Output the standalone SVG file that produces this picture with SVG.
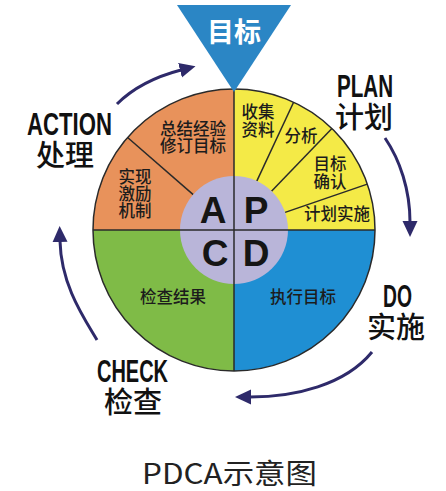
<svg xmlns="http://www.w3.org/2000/svg" width="446" height="491" viewBox="0 0 446 491">
<defs>
<style>
.seg{font-family:"Noto Sans CJK SC","Noto Sans",sans-serif;font-size:16.5px;font-weight:500;fill:#1c1c1c;text-anchor:middle}
.big{font-family:"Liberation Sans",Arial,sans-serif;font-size:37px;font-weight:bold;fill:#151515;text-anchor:middle}
.en{font-family:"Liberation Sans",Arial,sans-serif;font-size:31px;font-weight:bold;fill:#111;text-anchor:middle}
.cn{font-family:"Noto Sans CJK SC",sans-serif;font-size:29px;font-weight:500;fill:#111;text-anchor:middle}
.div{stroke:#2a2a2a;stroke-width:1.5;fill:none}
.arc{stroke:#2E2A6A;stroke-width:3;fill:none;marker-end:url(#ah)}
</style>
<marker id="ah" markerUnits="userSpaceOnUse" markerWidth="18" markerHeight="16" refX="1" refY="7.5" orient="auto">
<path d="M0,0 L16,7.5 L0,15 Z" fill="#2E2A6A"/>
</marker>
</defs>
<rect width="446" height="491" fill="#fff"/>

<g id="wheel">
<path d="M234,230 L93,230 A141,141 0 0 1 234,89 Z" fill="#E8925B"/>
<path d="M234,230 L234,89 A141,141 0 0 1 375,230 Z" fill="#F4EA47"/>
<path d="M234,230 L375,230 A141,141 0 0 1 234,371 Z" fill="#1F8FD3"/>
<path d="M234,230 L234,371 A141,141 0 0 1 93,230 Z" fill="#7FBB47"/>
<line class="div" x1="256.8" y1="181.1" x2="293.6" y2="102.2"/>
<line class="div" x1="271.5" y1="191.2" x2="331.9" y2="128.6"/>
<line class="div" x1="285.1" y1="212.4" x2="367.3" y2="184.1"/>
<line class="div" x1="193.2" y1="194.6" x2="127.6" y2="137.5"/>
<circle cx="234" cy="230" r="54" fill="#B9B5D9"/>
<line class="div" x1="93" y1="230" x2="375" y2="230"/>
<line class="div" x1="234" y1="89" x2="234" y2="371"/>
<circle cx="234" cy="230" r="141" class="div"/>
</g>

<g id="goal">
<polygon points="177,5 291,5 234,92" fill="#2B86C5"/>
<text x="234" y="42" font-family="Noto Sans CJK SC,sans-serif" font-size="27" font-weight="bold" fill="#fff" text-anchor="middle">目标</text>
</g>

<g id="letters">
<text class="big" x="213" y="223">A</text>
<text class="big" x="256" y="223">P</text>
<text class="big" x="215" y="266">C</text>
<text class="big" x="256" y="266">D</text>
</g>

<g id="act-labels">
<text class="seg" x="193" y="134.5">总结经验</text>
<text class="seg" x="193" y="152">修订目标</text>
<text class="seg" x="135" y="182.5">实现</text>
<text class="seg" x="135" y="199.5">激励</text>
<text class="seg" x="135" y="216.5">机制</text>
</g>
<g id="plan-labels">
<text class="seg" x="258" y="118">收集</text>
<text class="seg" x="258" y="135.5">资料</text>
<text class="seg" x="301" y="142">分析</text>
<text class="seg" x="330" y="170">目标</text>
<text class="seg" x="330" y="188">确认</text>
<text class="seg" x="337" y="220">计划实施</text>
</g>
<g id="check-label"><text class="seg" x="173" y="303">检查结果</text></g>
<g id="do-label"><text class="seg" x="303" y="303">执行目标</text></g>

<g id="action">
<text class="en" x="69.5" y="135" textLength="85" lengthAdjust="spacingAndGlyphs">ACTION</text>
<text class="cn" x="65" y="166">处理</text>
</g>
<g id="plan">
<text class="en" x="365" y="97" textLength="56" lengthAdjust="spacingAndGlyphs">PLAN</text>
<text class="cn" x="364" y="128">计划</text>
</g>
<g id="do">
<text class="en" x="397.5" y="307" textLength="29" lengthAdjust="spacingAndGlyphs">DO</text>
<text class="cn" x="396" y="338">实施</text>
</g>
<g id="check">
<text class="en" x="132.5" y="382" textLength="71" lengthAdjust="spacingAndGlyphs">CHECK</text>
<text class="cn" x="133" y="413">检查</text>
</g>

<g id="connectors">
<path class="arc" d="M117,104 C135,86 158,76 181,70"/>
<path class="arc" d="M385,138 C400,160 410,190 410,222"/>
<path class="arc" d="M372,352 C345,385 295,397 250,397"/>
<path class="arc" d="M97,340 C84,318 61,285 60,241"/>
</g>

<g id="title">
<text x="229.5" y="484" font-family="Noto Sans CJK SC,sans-serif" font-size="28" fill="#222" text-anchor="middle" textLength="175" lengthAdjust="spacingAndGlyphs">PDCA示意图</text>
</g>
</svg>
